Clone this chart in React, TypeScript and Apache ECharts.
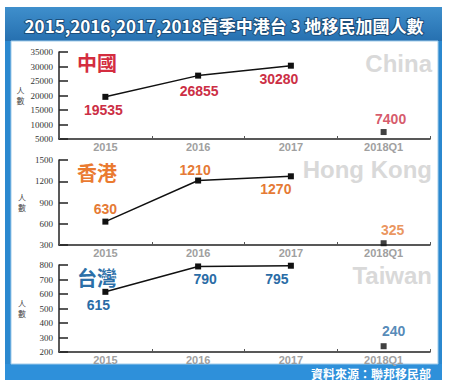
import React, { useEffect, useRef } from "react";
import * as echarts from "echarts";

const categories = ["2015", "2016", "2017", "2018Q1"];
const chinaValues = [19535, 26855, 30280, 7400];
const hongKongValues = [630, 1210, 1270, 325];
const taiwanValues = [615, 790, 795, 240];

const chinaAxis = { min: 5000, max: 35000, interval: 5000 };
const hongKongAxis = { min: 300, max: 1500, interval: 300 };
const taiwanAxis = { min: 200, max: 800, interval: 100 };

const titleText = "2015,2016,2017,2018首季中港台 3 地移民加國人數";
const sourceText = "資料來源：聯邦移民部";
const yName = "人\n數";

type Panel = {
  values: number[];
  axis: { min: number; max: number; interval: number };
  color: string;
  layout: [string, number[]][];
  grid: { top: number; height: number };
};

const panels: Panel[] = [
  {
    values: chinaValues,
    axis: chinaAxis,
    color: "#cc2f45",
    layout: [["bottom", [-2, 0]], ["bottom", [1, 2]], ["bottom", [-12, 0]], ["top", [7, 0]]],
    grid: { top: 52, height: 87 },
  },
  {
    values: hongKongValues,
    axis: hongKongAxis,
    color: "#e57a35",
    layout: [["top", [0, 0]], ["top", [-3, 2]], ["bottom", [-15, 0]], ["top", [9, 0]]],
    grid: { top: 160, height: 85 },
  },
  {
    values: taiwanValues,
    axis: taiwanAxis,
    color: "#2a6ca6",
    layout: [["bottom", [-7, 0]], ["bottom", [7, 0]], ["bottom", [-14, 0]], ["top", [10, -2]]],
    grid: { top: 265, height: 87 },
  },
];

export default function App() {
  const ref = useRef<HTMLDivElement>(null);
  useEffect(() => {
    if (!ref.current) return;
    const chart = echarts.init(ref.current, null, { renderer: "svg" });

    const grid = panels.map((p) => ({ left: 59, right: 19, top: p.grid.top, height: p.grid.height }));
    const xAxis = panels.map((p, i) => ({
      type: "category",
      gridIndex: i,
      data: categories,
      boundaryGap: true,
      axisLine: { lineStyle: { color: "#222", width: 1.5 } },
      axisTick: { show: true, inside: true, length: 3, lineStyle: { color: "#555" } },
      axisLabel: {
        color: "#a0a0a0",
        fontWeight: "bold",
        fontSize: 11,
        lineHeight: 11,
        fontFamily: "Liberation Sans, Arial, sans-serif",
        margin: 2,
      },
    }));
    const yAxis = panels.map((p, i) => ({
      type: "value",
      gridIndex: i,
      min: p.axis.min,
      max: p.axis.max,
      interval: p.axis.interval,
      name: yName,
      nameLocation: "middle",
      nameRotate: 0,
      nameGap: 33,
      nameTextStyle: { color: "#444", fontSize: 8, lineHeight: 10, fontFamily: "Noto Sans CJK TC" },
      axisLine: { show: true, lineStyle: { color: "#222", width: 1.5 } },
      axisTick: { show: true, inside: true, length: 9, lineStyle: { color: "#222", width: 1.5 } },
      splitLine: { show: false },
      axisLabel: {
        color: "#333",
        fontSize: 9,
        fontFamily: "Liberation Serif, Times New Roman, serif",
        margin: 6,
        formatter: (v: number) => String(v),
      },
    }));

    const series: any[] = [];
    panels.forEach((p, i) => {
      const mkItem = (v: number, k: number) => ({
        value: v,
        label: {
          position: p.layout[k][0],
          offset: p.layout[k][1],
        },
      });
      const labelStyle = {
        show: true,
        distance: 3,
        color: p.color,
        fontSize: 14,
        fontWeight: "bold",
        fontFamily: "Liberation Sans, Arial, sans-serif",
      };
      series.push({
        type: "line",
        xAxisIndex: i,
        yAxisIndex: i,
        data: p.values.map((v, k) => (k < 3 ? mkItem(v, k) : "-")),
        symbol: "rect",
        symbolSize: 6,
        showAllSymbol: true,
        itemStyle: { color: "#111" },
        lineStyle: { color: "#111", width: 1.5 },
        label: labelStyle,
      });
      series.push({
        type: "scatter",
        xAxisIndex: i,
        yAxisIndex: i,
        data: p.values.map((v, k) => (k === 3 ? mkItem(v, k) : "-")),
        symbol: "rect",
        symbolSize: 6,
        itemStyle: { color: "#111" },
        label: labelStyle,
      });
    });

    const big = (text: string, x: number, y: number, color: string, align = "left", size = 20) => ({
      type: "text",
      x,
      y,
      style: {
        text,
        fill: color,
        fontSize: size,
        fontWeight: "bold",
        fontFamily: align === "left" ? "Noto Sans CJK TC" : "Liberation Sans, Arial, sans-serif",
        align,
        verticalAlign: "middle",
      },
    });

    chart.setOption({
      animation: false,
      backgroundColor: "#ffffff",
      graphic: [
        { type: "rect", z: -10, shape: { x: 5, y: 7, width: 437, height: 373 }, style: { fill: "#2b88cf" } },
        {
          type: "rect",
          z: -9,
          shape: { x: 5, y: 7, width: 437, height: 34 },
          style: {
            fill: new echarts.graphic.LinearGradient(0, 0, 0, 1, [
              { offset: 0, color: "#3f8fcc" },
              { offset: 1, color: "#2670b0" },
            ]),
          },
        },
        { type: "rect", z: -9, shape: { x: 5, y: 364, width: 437, height: 16 }, style: { fill: "#2e90da" } },
        { type: "rect", z: -8, shape: { x: 11, y: 41, width: 427, height: 323 }, style: { fill: "#ffffff", stroke: "#9fcbea", lineWidth: 1 } },
        {
          type: "text",
          x: 224,
          y: 25,
          z: 10,
          style: {
            text: titleText,
            fill: "#ffffff",
            fontSize: 17,
            fontWeight: "bold",
            fontFamily: "Noto Sans CJK TC",
            align: "center",
            verticalAlign: "middle",
            stroke: "#1d4f7c",
            lineWidth: 2,
          },
        },
        {
          type: "text",
          x: 431,
          y: 373,
          z: 10,
          style: {
            text: sourceText,
            fill: "#ffffff",
            fontSize: 12,
            lineHeight: 12,
            fontWeight: "bold",
            fontFamily: "Noto Sans CJK TC",
            align: "right",
            verticalAlign: "middle",
          },
        },
        big("中國", 77, 62, "#d42d3f"),
        big("香港", 77, 172, "#ea7a30"),
        big("台灣", 77, 277, "#2c6fa8"),
        big("China", 432, 63, "#d9d9d9", "right", 24),
        big("Hong Kong", 432, 169, "#d9d9d9", "right", 24),
        big("Taiwan", 432, 275, "#d9d9d9", "right", 24),
      ],
      grid,
      xAxis,
      yAxis,
      series,
    });
    return () => chart.dispose();
  }, []);
  return (
    <div
      ref={ref}
      style={{ position: "fixed", left: 0, top: 0, width: 449, height: 387, background: "#fff" }}
    />
  );
}
